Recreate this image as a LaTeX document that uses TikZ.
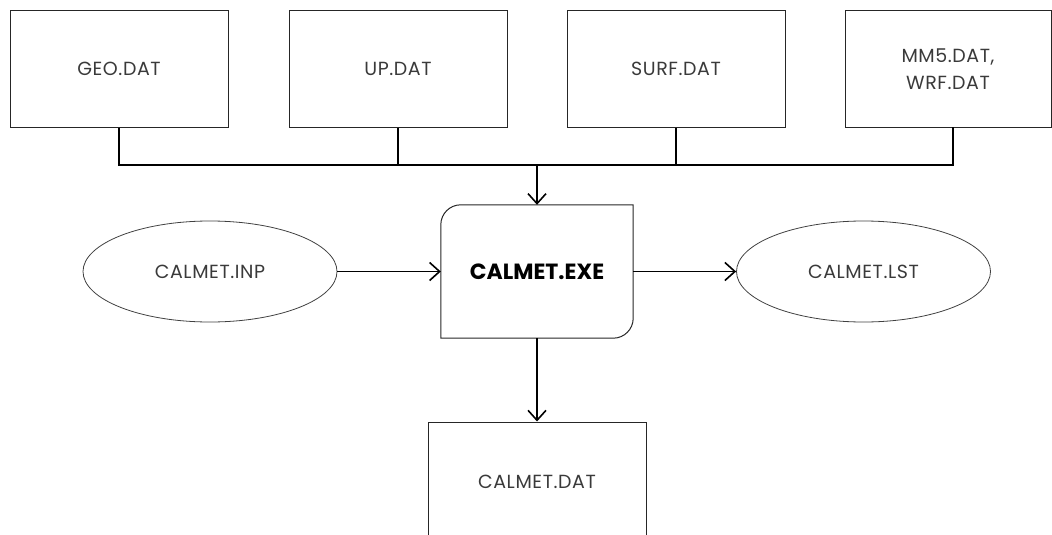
\documentclass[tikz,border=0pt]{standalone}
\usepackage{fontspec}
\setmainfont{Poppins}
\usetikzlibrary{arrows.meta,shapes.geometric,positioning}
\definecolor{txt}{HTML}{3A3A3A}
\tikzset{
  lbl/.style={font=\fontsize{19}{26}\selectfont\addfontfeatures{LetterSpace=3}},
  filebox/.style={draw=black!85, line width=1pt, rectangle, minimum width=218pt, minimum height=116pt, inner sep=0pt, text=txt, lbl, align=center},
  fileell/.style={draw=black!75, line width=0.8pt, ellipse, minimum width=254pt, minimum height=101pt, inner sep=0pt, text=txt, lbl},
  exebox/.style={inner sep=0pt, minimum width=192pt, minimum height=133pt, font=\fontsize{22}{26}\selectfont\bfseries},
  exeline/.style={draw=black!85, line width=1pt},
  link/.style={draw=black, line width=1.6pt},
  arr/.style={link, -{Straight Barb[length=10pt,width=18pt,line width=1.6pt]}}
}
\begin{document}
\begin{tikzpicture}[x=1pt,y=-1pt]
\useasboundingbox (0,0) rectangle (1052,535);
\clip (0,0) rectangle (1052,535);
\node[filebox] (geo) at (119,69) {GEO.DAT};
\node[filebox] (up) at (398,69) {UP.DAT};
\node[filebox] (surf) at (676,69) {SURF.DAT};
\node[filebox, minimum width=206pt] (mm5) at (948,69) {MM5.DAT,\\[1pt]WRF.DAT};
\coordinate (mm5drop) at (953,127);
\coordinate (bus) at (537,165);
% CALMET.EXE with rounded top-left and bottom-right corners
\node[exebox] (exe) at (537,271.5) {CALMET.EXE};
\draw[exeline] (exe.north) -- (exe.north east) -- (exe.east)
  [rounded corners=20pt] -- (exe.south east) [sharp corners] -- (exe.south west) -- (exe.west)
  [rounded corners=20pt] -- (exe.north west) [sharp corners] -- cycle;
\node[fileell] (inp) at (210,271.5) {CALMET.INP};
\node[fileell] (lst) at (863.5,271.5) {CALMET.LST};
\node[filebox, minimum height=120pt] (dat) at (537,482) {CALMET.DAT};
% connectors
\draw[link] (geo.south) |- (mm5drop |- bus) -- (mm5drop);
\draw[link] (up.south) -- (up.south |- bus);
\draw[link] (surf.south) -- (surf.south |- bus);
\draw[arr] (bus) -- (exe.north);
\draw[arr] (inp.east) -- (exe.west);
\draw[arr] (exe.east) -- (lst.west);
\draw[arr] (exe.south) -- (dat.north);
\end{tikzpicture}
\end{document}
